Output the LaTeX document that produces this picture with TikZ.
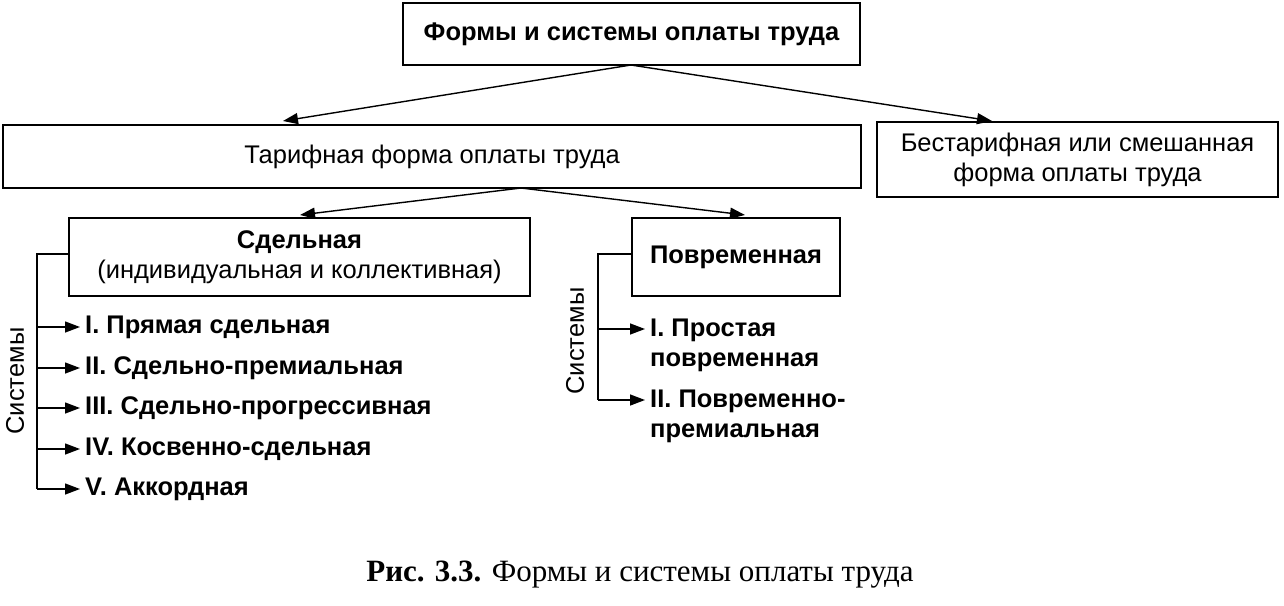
\documentclass[tikz,border=0pt]{standalone}
\usepackage{fontspec}
\setmainfont{Liberation Sans}
\newfontfamily\capfont{Liberation Serif}
\usetikzlibrary{arrows.meta}
\begin{document}
\begin{tikzpicture}[x=1pt,y=-1pt,
  box/.style={draw,line width=1.8pt,inner sep=0pt},
  arr/.style={line width=1.4pt,-{Triangle[length=15pt,width=11pt]}},
  ln/.style={line width=1.4pt},
  lbl/.style={anchor=west,font=\fontsize{25.5}{30}\selectfont\bfseries,align=left},
  txt/.style={font=\fontsize{25.5}{30}\selectfont,align=center}]
\useasboundingbox (0,0) rectangle (1284,605);
\node[box,minimum width=457pt,minimum height=62pt,txt,font=\fontsize{25.5}{30}\selectfont\bfseries] (top) at (631.5,34) {Формы и системы оплаты труда};
\node[box,minimum width=858pt,minimum height=63pt,txt] (tar) at (432,156.5) {Тарифная форма оплаты труда};
\node[box,minimum width=401pt,minimum height=75pt,txt] (bes) at (1077.5,159.5) {Бестарифная или смешанная\\форма оплаты труда};
\node[box,minimum width=461pt,minimum height=78pt,txt] (sd) at (299.5,257) {\textbf{Сдельная}\\(индивидуальная и коллективная)};
\node[box,minimum width=208pt,minimum height=78pt,txt,font=\fontsize{25.5}{30}\selectfont\bfseries] (pv) at (736,257) {Повременная};
\coordinate (t0) at (631,65);
\draw[arr] (t0) -- (283,121);
\draw[arr] (t0) -- (992,121);
\coordinate (m0) at (521,188);
\draw[arr] (m0) -- (300,215);
\draw[arr] (m0) -- (745,215);
% left systems
\coordinate (L0) at (69,254);
\coordinate (L1) at (37,254);
\coordinate (L2) at (37,489);
\draw[ln] (L0) -- (L1) -- (L2);
\node[txt,rotate=90] (s1) at (15,381) {Системы};
\foreach \y/\t [count=\i] in {327/I. Прямая сдельная,368/II. Сдельно-премиальная,408/III. Сдельно-прогрессивная,449/IV. Косвенно-сдельная,489/V. Аккордная}{
  \coordinate (a\i) at (37,\y);
  \node[lbl,inner xsep=5pt] (l\i) at (80,\y) {\t};
  \draw[arr] (a\i) -- (l\i.west);
}
% right systems
\coordinate (R0) at (632,254);
\coordinate (R1) at (598,254);
\coordinate (R2) at (598,400);
\draw[ln] (R0) -- (R1) -- (R2);
\node[txt,rotate=90] (s2) at (575,341) {Системы};
\coordinate (b1) at (598,329);
\coordinate (b2) at (598,400);
\node[lbl,anchor=north west,inner xsep=5pt] (r1) at (645,315) {I. Простая\\повременная};
\node[lbl,anchor=north west,inner xsep=5pt] (r2) at (645,386) {II. Повременно-\\премиальная};
\draw[arr] (b1) -- (645,329);
\draw[arr] (b2) -- (645,400);
\node[font=\capfont\fontsize{31}{36}\selectfont] (cap) at (640,575) {\textbf{Рис. 3.3.} Формы и системы оплаты труда};
\end{tikzpicture}
\end{document}
